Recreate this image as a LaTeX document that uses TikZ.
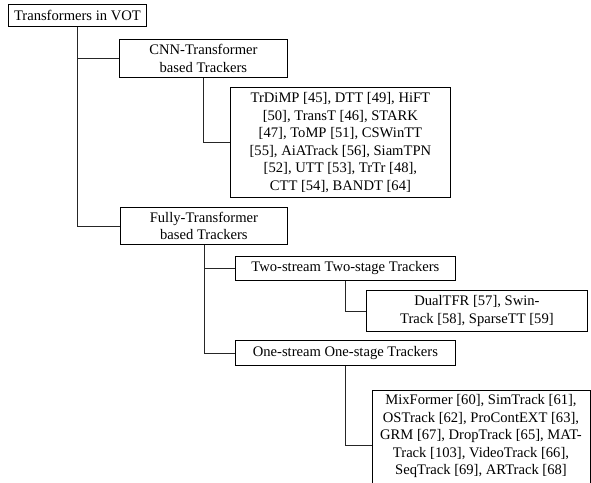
\documentclass[tikz,border=0pt]{standalone}
\usepackage{fontspec}
\setmainfont{Liberation Serif}
\begin{document}
\begin{tikzpicture}[x=1pt,y=-1pt,
  box/.style={draw=black, line width=0.8pt, inner sep=2pt, align=center, anchor=north west,
    font=\fontsize{14.6}{17.5}\selectfont},
  link/.style={draw=black!85, line width=0.8pt}]
\useasboundingbox (0,0) rectangle (591,482);
\clip (0,0) rectangle (591,482);
\fill[white] (0,0) rectangle (591,482);

\node[box, minimum width=138pt, minimum height=22pt] (root) at (8,4) {Transformers in VOT};
\node[box, minimum width=168pt, minimum height=38pt] (cnn) at (119,39) {CNN-Transformer\\based Trackers};
\node[box, minimum width=220pt, minimum height=110pt] (leafA) at (230,87)
  {TrDiMP [45], DTT [49], HiFT\\{}%
   [50], TransT [46], STARK\\{}%
   [47], ToMP [51], CSWinTT\\{}%
   [55], AiATrack [56], SiamTPN\\{}%
   [52], UTT [53], TrTr [48],\\
   CTT [54], BANDT [64]};
\node[box, minimum width=167pt, minimum height=37pt] (fully) at (120,207) {Fully-Transformer\\based Trackers};
\node[box, minimum width=220pt, minimum height=24pt] (two) at (235,256) {Two-stream Two-stage Trackers};
\node[box, minimum width=221pt, minimum height=41pt] (dual) at (366,290) {DualTFR [57], Swin-\\Track [58], SparseTT [59]};
\node[box, minimum width=220pt, minimum height=25pt] (one) at (235,340) {One-stream One-stage Trackers};
\node[box, minimum width=218pt, minimum height=110pt] (last) at (372,390) {};
\node[align=center, inner sep=0pt, font=\fontsize{14.6}{17.5}\selectfont] (lasttext) at (481,436)
  {MixFormer [60], SimTrack [61],\\
   OSTrack [62], ProContEXT [63],\\
   GRM [67], DropTrack [65], MAT-\\
   Track [103], VideoTrack [66],\\
   SeqTrack [69], ARTrack [68]};

\draw[link] (root.south) |- (cnn.west);
\draw[link] (root.south) |- (fully.west);
\draw[link] (cnn.south) |- (leafA.west);
\draw[link] (fully.south) |- (two.west);
\draw[link] (fully.south) |- (one.west);
\draw[link] (two.south) |- (dual.west);
\draw[link] (one.south) |- (last.west);
\end{tikzpicture}
\end{document}
